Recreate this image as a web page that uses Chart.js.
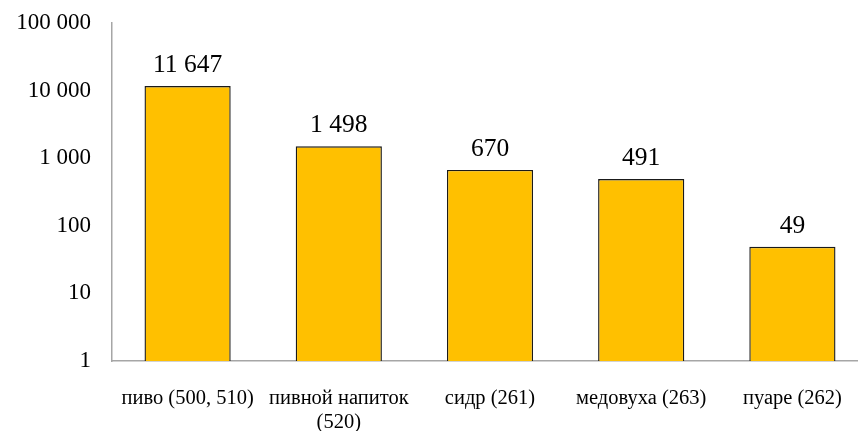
<!DOCTYPE html>
<html>
<head>
<meta charset="utf-8">
<script src="https://cdn.jsdelivr.net/npm/chart.js@4/dist/chart.umd.min.js"></script>
<style>
  html, body { margin: 0; padding: 0; background: #fff; overflow: hidden; }
</style>
</head>
<body>
<canvas id="beerChart" width="868" height="431"></canvas>
<script>
const categories = ['пиво (500, 510)', ['пивной напиток', '(520)'], 'сидр (261)', 'медовуха (263)', 'пуаре (262)'];
const volumes = [11647, 1498, 670, 491, 49];
const tickValues = [1, 10, 100, 1000, 10000, 100000];
const tickLabels = ['1', '10', '100', '1 000', '10 000', '100 000'];
const valueLabels = ['11 647', '1 498', '670', '491', '49'];

const fontFamily = '"Liberation Serif", "Times New Roman", serif';

// подписи значений над столбцами
const valueLabelPlugin = {
  id: 'valueLabels',
  afterDatasetsDraw(chart) {
    const ctx = chart.ctx;
    const meta = chart.getDatasetMeta(0);
    ctx.save();
    ctx.font = '25.5px ' + fontFamily;
    ctx.fillStyle = '#000';
    ctx.textAlign = 'center';
    ctx.textBaseline = 'alphabetic';
    meta.data.forEach((bar, i) => {
      ctx.fillText(valueLabels[i], bar.x, bar.y - 14);
    });
    ctx.restore();
  }
};

const ctx = document.getElementById('beerChart').getContext('2d');
const chart = new Chart(ctx, {
  type: 'bar',
  data: {
    labels: categories,
    datasets: [{
      data: volumes,
      backgroundColor: '#FFC000',
      borderColor: '#1a1a1a',
      borderWidth: 1.4,
      barPercentage: 0.57,
      categoryPercentage: 1.0,
    }],
  },
  options: {
    responsive: false,
    animation: false,
    layout: { padding: { top: 23, right: 0, bottom: 0, left: 0 } },
    plugins: {
      legend: { display: false },
      tooltip: { enabled: false },
    },
    scales: {
      x: {
        grid: { display: false, drawTicks: false },
        border: { color: '#a6a6a6', width: 1.5 },
        ticks: {
          color: '#000',
          padding: 26,
          maxRotation: 0,
          autoSkip: false,
          font: { family: fontFamily, size: 20.5, lineHeight: 1.15 },
        },
        afterFit: (scale) => { scale.height = 70; },
      },
      y: {
        type: 'logarithmic',
        min: 1,
        max: 100000,
        // невидимые засечки дают отступ подписей, не сдвигая верх области
        grid: { display: true, drawOnChartArea: false, drawTicks: true, tickLength: 21, tickColor: 'rgba(0,0,0,0)' },
        border: { color: '#a6a6a6', width: 1.5 },
        afterBuildTicks: (scale) => {
          scale.ticks = tickValues.map(v => ({ value: v }));
        },
        ticks: {
          color: '#000',
          padding: 0,
          font: { family: fontFamily, size: 23 },
          callback: (value) => {
            const idx = tickValues.indexOf(value);
            return idx >= 0 ? tickLabels[idx] : '';
          },
        },
        afterFit: (scale) => { scale.width = 112; },
      },
    },
  },
  plugins: [valueLabelPlugin],
});
</script>
</body>
</html>
